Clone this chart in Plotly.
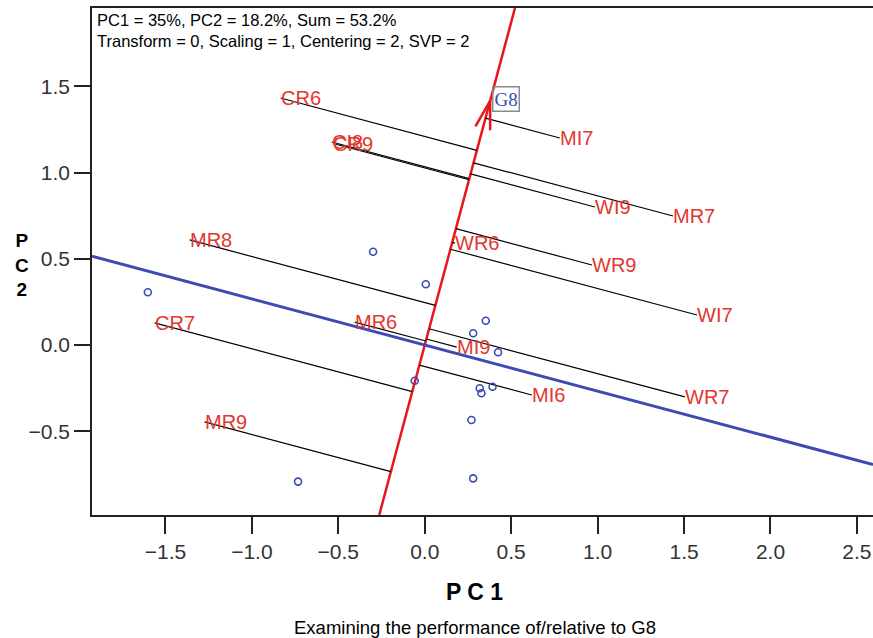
import numpy as np
import plotly.graph_objects as go

# ---- data ----
env_names = ["CR6", "CI8", "CR9", "MI7", "WI9", "MR7", "WR6", "WR9", "WI7",
             "MR8", "CR7", "MR6", "MI9", "MI6", "WR7", "MR9"]
env_pc1 = [-0.834, -0.538, -0.530, 0.781, 0.984, 1.436, 0.174, 0.967, 1.575,
           -1.360, -1.563, -0.405, 0.185, 0.619, 1.505, -1.274]
env_pc2 = [1.432, 1.177, 1.168, 1.200, 0.800, 0.748, 0.591, 0.464, 0.174,
           0.609, 0.128, 0.133, -0.012, -0.290, -0.301, -0.446]

gen_pc1 = [-0.299, 0.006, -1.602, 0.353, 0.280, 0.424, -0.058, 0.318, 0.328,
           0.392, 0.270, 0.280, -0.733]
gen_pc2 = [0.541, 0.352, 0.306, 0.141, 0.068, -0.042, -0.207, -0.251, -0.280,
           -0.242, -0.435, -0.773, -0.792]

target_name = "G8"
target_pc1 = 0.378
target_pc2 = 1.415

x_ticks = [-1.5, -1.0, -0.5, 0.0, 0.5, 1.0, 1.5, 2.0, 2.5]
y_ticks = [-0.5, 0.0, 0.5, 1.0, 1.5]

info_line1 = "PC1 = 35%, PC2 = 18.2%, Sum = 53.2%"
info_line2 = "Transform = 0, Scaling = 1, Centering = 2, SVP = 2"

# ---- styling ----
X_RANGE = [-1.925, 2.593]
Y_RANGE = [-0.9855, 1.9536]
RED = "#e8161b"
LABEL_RED = "#e2362f"
BLUE = "#3b4bb3"
FONT = "Liberation Sans"

fig = go.Figure()

# unit vector toward the target genotype
u = np.array([target_pc1, target_pc2])
u = u / np.linalg.norm(u)

# red axis through origin and target, clipped to plot
ys = np.array(Y_RANGE)
xs = ys * u[0] / u[1]
fig.add_trace(go.Scatter(x=xs, y=ys, mode="lines",
                         line=dict(color=RED, width=2.5), hoverinfo="skip"))

# blue perpendicular through origin
bx = np.array(X_RANGE)
by = -bx * u[0] / u[1]
fig.add_trace(go.Scatter(x=bx, y=by, mode="lines",
                         line=dict(color=BLUE, width=3), hoverinfo="skip"))

# projection lines from each environment to the red axis
lx, ly = [], []
for ex, ey in zip(env_pc1, env_pc2):
    d = ex * u[0] + ey * u[1]
    lx += [ex, d * u[0], None]
    ly += [ey, d * u[1], None]
fig.add_trace(go.Scatter(x=lx, y=ly, mode="lines",
                         line=dict(color="black", width=1.2), hoverinfo="skip"))

# arrowhead barbs at the target
back = -u
L = 0.17
ax_, ay_ = [], []
for th in (np.radians(15), -np.radians(15)):
    rx = back[0] * np.cos(th) - back[1] * np.sin(th)
    ry = back[0] * np.sin(th) + back[1] * np.cos(th)
    ax_ += [target_pc1, target_pc1 + L * rx, None]
    ay_ += [target_pc2, target_pc2 + L * ry, None]
fig.add_trace(go.Scatter(x=ax_, y=ay_, mode="lines",
                         line=dict(color=RED, width=2.5), hoverinfo="skip"))

# genotype markers
fig.add_trace(go.Scatter(x=gen_pc1, y=gen_pc2, mode="markers",
                         marker=dict(symbol="circle-open", size=7,
                                     color=BLUE, line=dict(width=1.6, color=BLUE)),
                         hoverinfo="skip"))

annotations = []
for name, ex, ey in zip(env_names, env_pc1, env_pc2):
    annotations.append(dict(x=ex, y=ey, xref="x", yref="y", text=name,
                            showarrow=False, xanchor="left", yanchor="middle",
                            xshift=-2,
                            font=dict(family=FONT, size=20, color=LABEL_RED)))

annotations.append(dict(x=target_pc1, y=target_pc2, xref="x", yref="y",
                        text=target_name, showarrow=False, xanchor="left",
                        yanchor="middle", xshift=2, yshift=2,
                        bordercolor="#8a8a8a", borderwidth=1.5, borderpad=1,
                        font=dict(family="Liberation Serif", size=19, color=BLUE)))

annotations.append(dict(x=0.004, y=0.977, xref="paper", yref="paper",
                        text=info_line1, showarrow=False, xanchor="left",
                        yanchor="middle",
                        font=dict(family=FONT, size=16.5, color="black")))
annotations.append(dict(x=0.004, y=0.934, xref="paper", yref="paper",
                        text=info_line2, showarrow=False, xanchor="left",
                        yanchor="middle",
                        font=dict(family=FONT, size=16.5, color="black")))

annotations.append(dict(x=0.49, y=-0.152, xref="paper", yref="paper",
                        text="<b>P C 1</b>", showarrow=False,
                        xanchor="center", yanchor="middle",
                        font=dict(family=FONT, size=23, color="black")))
annotations.append(dict(x=0.49, y=-0.221, xref="paper", yref="paper",
                        text="Examining the performance of/relative to G8",
                        showarrow=False, xanchor="center", yanchor="middle",
                        font=dict(family=FONT, size=18.5, color="black")))
annotations.append(dict(x=-0.089, y=(515 - 265) / 507, xref="paper", yref="paper",
                        text="<b>P<br>C<br>2</b>", showarrow=False,
                        xanchor="center", yanchor="middle",
                        font=dict(family=FONT, size=19, color="black")))

fig.update_layout(
    width=873, height=638, autosize=False,
    margin=dict(l=92, r=0, t=8, b=123),
    plot_bgcolor="white", paper_bgcolor="white",
    showlegend=False,
    annotations=annotations,
    xaxis=dict(range=X_RANGE, tickvals=x_ticks, tickformat=".1f",
               showgrid=False, zeroline=False,
               showline=True, linecolor="#222", linewidth=1.5, mirror=True,
               ticks="outside", ticklen=17, tickwidth=1.5, tickcolor="#222",
               tickfont=dict(family=FONT, size=21, color="#333")),
    yaxis=dict(range=Y_RANGE, tickvals=y_ticks, tickformat=".1f",
               showgrid=False, zeroline=False,
               showline=True, linecolor="#222", linewidth=1.5, mirror=False,
               ticks="outside", ticklen=16, tickwidth=1.5, tickcolor="#222",
               tickfont=dict(family=FONT, size=21, color="#333")),
)

fig.write_html("out.html")
